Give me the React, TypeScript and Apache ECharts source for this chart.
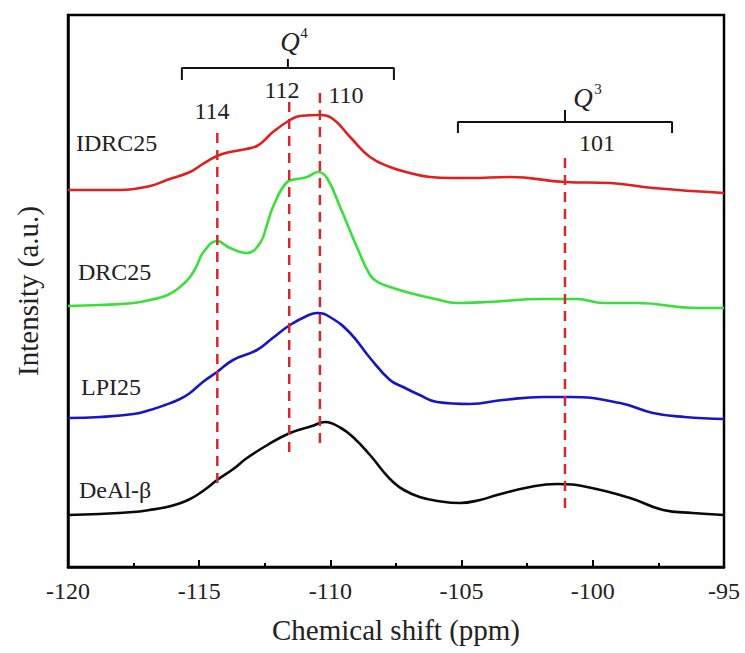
import React, { useEffect, useRef } from "react";
import * as echarts from "echarts";

// Chemical shift (ppm) / intensity (a.u.) pairs
const IDRC25: number[][] = [
  [-120.0, 377], [-118.78, 377], [-118.02, 377], [-116.87, 381], [-116.23, 387],
  [-115.35, 395], [-114.86, 403], [-114.32, 411], [-113.83, 415], [-113.2, 418],
  [-112.8, 421], [-112.5, 427], [-112.19, 435], [-111.54, 447], [-111.16, 451],
  [-110.4, 452], [-109.9, 448], [-109.25, 430], [-108.49, 410], [-107.73, 400],
  [-106.97, 394], [-106.2, 390], [-105.4, 389], [-104.68, 389], [-103.16, 390],
  [-101.06, 385], [-99.34, 384], [-97.71, 379], [-95.0, 374],
];
const DRC25: number[][] = [
  [-120.0, 261], [-118.78, 262], [-117.5, 264], [-116.87, 267], [-116.2, 272],
  [-115.73, 280], [-115.35, 290], [-115.08, 302], [-114.86, 314], [-114.32, 326],
  [-113.83, 319], [-113.18, 314], [-112.68, 324], [-112.42, 342], [-112.19, 360],
  [-111.65, 385], [-111.27, 388], [-110.89, 390], [-110.47, 395], [-110.13, 389],
  [-109.63, 360], [-108.99, 320], [-108.49, 292], [-108.2, 285], [-107.73, 280],
  [-106.97, 274], [-106.0, 268], [-105.18, 264], [-104.03, 265], [-101.9, 268],
  [-100.6, 268], [-99.61, 264], [-98.32, 264], [-96.03, 259], [-95.0, 259],
];
const LPI25: number[][] = [
  [-120.0, 149], [-118.78, 150], [-117.5, 153], [-116.87, 157], [-116.3, 162],
  [-115.73, 168], [-115.35, 174], [-114.86, 185], [-114.32, 195], [-113.71, 207],
  [-112.8, 217], [-112.2, 229], [-111.54, 242], [-110.9, 251], [-110.51, 254],
  [-110.02, 250], [-109.25, 234], [-108.49, 209], [-107.73, 187], [-107.23, 180],
  [-106.6, 172], [-105.94, 165], [-104.68, 163], [-103.42, 167], [-101.9, 170],
  [-100.87, 170], [-98.96, 164], [-97.71, 154], [-96.5, 150], [-95.0, 148],
];
const DeAlBeta: number[][] = [
  [-120.0, 52], [-118.8, 53], [-117.52, 55], [-116.9, 57], [-116.23, 60],
  [-115.7, 64], [-115.35, 68], [-115.08, 72], [-114.7, 79], [-114.32, 87],
  [-113.7, 98], [-113.18, 109], [-112.4, 122], [-111.54, 134], [-110.7, 141],
  [-110.2, 145], [-109.6, 139], [-109.14, 130], [-108.49, 112], [-108.0, 96],
  [-107.61, 85], [-107.2, 77], [-106.6, 70], [-105.9, 66], [-105.06, 64],
  [-104.3, 67], [-103.65, 72], [-102.39, 80], [-101.36, 83], [-100.22, 80],
  [-98.58, 69], [-97.32, 57], [-96.2, 54], [-95.0, 52],
];

// Peak markers (dashed lines)
const peakPositions = [-114.31, -111.57, -110.4, -101.06];
const peakTops = [434, 465, 474, 409];
const peakBottoms = [82, 112, 122, 57];
const peakLabels = ["114", "112", "110", "101"];

// Braces: [start, centre, end, base, top, tip]
const braceQ4 = [-115.66, -111.62, -107.58, 487, 499, 508];
const braceQ3 = [-105.14, -101.06, -96.98, 434, 445, 457];

const xMin = -120;
const xMax = -95;
const xInterval = 5;

const FONT = '"Liberation Serif", "Times New Roman", serif';

function bracePoints(b: number[]): number[][] {
  const [s, c, e, base, top, tip] = b;
  return [[s, base], [s, top], [c, top], [c, tip], [c, top], [e, top], [e, base]];
}

export default function App() {
  const ref = useRef<HTMLDivElement>(null);
  useEffect(() => {
    document.body.style.margin = "0";
    const chart = echarts.init(ref.current!, null, { renderer: "svg" });
    const curves = [
      { name: "IDRC25", data: IDRC25, color: "#e41d1d" },
      { name: "DRC25", data: DRC25, color: "#3ae03a" },
      { name: "LPI25", data: LPI25, color: "#1616c8" },
      { name: "DeAl-β", data: DeAlBeta, color: "#0a0a0a" },
    ];
    const series: any[] = [];
    peakPositions.forEach((p, i) => {
      series.push({
        type: "line",
        name: "peak" + peakLabels[i],
        data: [[p, peakTops[i]], [p, peakBottoms[i]]],
        symbol: "none",
        lineStyle: { color: "#d6282a", width: 2.5, type: [10, 7] },
        z: 3,
      });
    });
    curves.forEach((c) => {
      series.push({
        type: "line",
        name: c.name,
        data: c.data,
        symbol: "none",
        smooth: 0.45,
        lineStyle: { color: c.color, width: 2.6 },
        z: 2,
      });
    });
    [braceQ4, braceQ3].forEach((b, i) => {
      series.push({
        type: "line",
        name: i === 0 ? "Q4 brace" : "Q3 brace",
        data: bracePoints(b),
        symbol: "none",
        lineStyle: { color: "#111", width: 2 },
        z: 3,
      });
    });

    const txt = (text: string, x: number, y: number, size: number, extra: any = {}) => ({
      type: "text",
      x,
      y,
      style: {
        text,
        fontFamily: FONT,
        fontSize: size,
        fill: "#222",
        align: "center",
        verticalAlign: "middle",
        ...extra,
      },
    });

    chart.setOption({
      animation: false,
      backgroundColor: "#fff",
      grid: {
        left: 68,
        right: 21,
        top: 15,
        bottom: 86,
        show: true,
        borderColor: "#000",
        borderWidth: 2.5,
      },
      xAxis: {
        type: "value",
        min: xMin,
        max: xMax,
        interval: xInterval,
        name: "Chemical shift (ppm)",
        nameLocation: "middle",
        nameGap: 48,
        nameTextStyle: { fontFamily: FONT, fontSize: 29, color: "#222" },
        axisLine: { show: true, lineStyle: { color: "#000", width: 2.5 } },
        axisTick: { show: true, inside: true, length: 7, lineStyle: { color: "#000", width: 2 } },
        minorTick: { show: true, splitNumber: 2, length: 4, lineStyle: { color: "#000", width: 2 } },
        axisLabel: { fontFamily: FONT, fontSize: 24, color: "#222", margin: 12 },
        splitLine: { show: false },
      },
      yAxis: {
        type: "value",
        min: 0,
        max: 552,
        name: "Intensity (a.u.)",
        nameLocation: "middle",
        nameGap: 26,
        nameTextStyle: { fontFamily: FONT, fontSize: 29, color: "#222" },
        axisLine: { show: true, lineStyle: { color: "#000", width: 2.5 } },
        axisTick: { show: false },
        axisLabel: { show: false },
        splitLine: { show: false },
      },
      series,
      graphic: [
        txt("Q", 290, 42, 27, { fontStyle: "italic" }),
        txt("4", 304, 33, 15),
        txt("Q", 583, 98, 27, { fontStyle: "italic" }),
        txt("3", 598, 89, 15),
        txt(peakLabels[0], 212, 111, 24),
        txt(peakLabels[1], 282, 90, 24),
        txt(peakLabels[2], 346, 95, 24),
        txt(peakLabels[3], 597, 143, 24),
        txt("IDRC25", 76, 143, 24, { align: "left" }),
        txt("DRC25", 78, 272, 24, { align: "left" }),
        txt("LPI25", 81, 387, 24, { align: "left" }),
        txt("DeAl-β", 79, 490, 24, { align: "left" }),
      ],
    });
    return () => chart.dispose();
  }, []);
  return <div ref={ref} style={{ width: 745, height: 653 }} />;
}
